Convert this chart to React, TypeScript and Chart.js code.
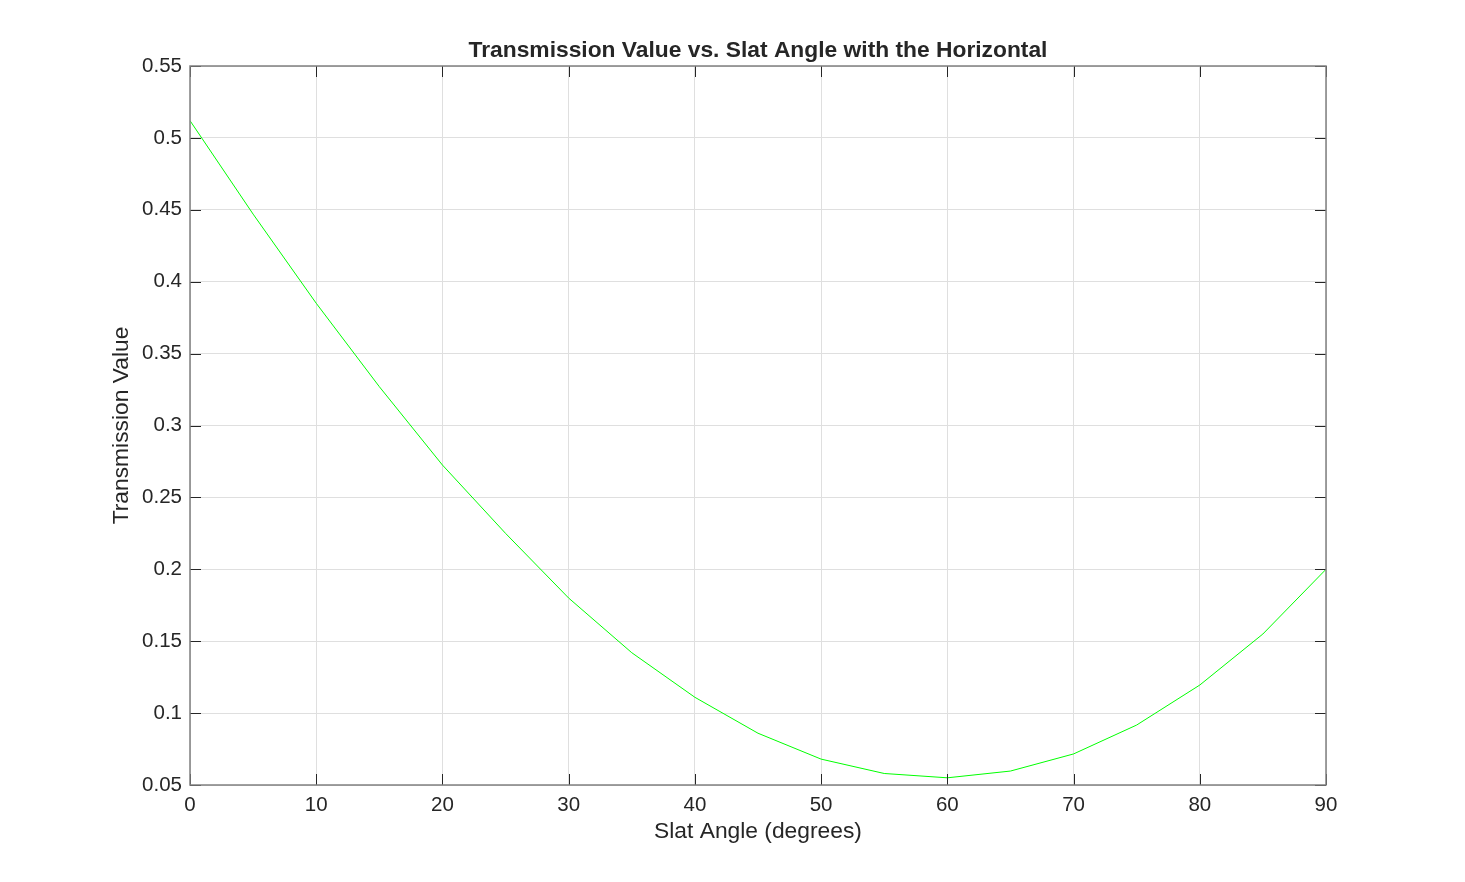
import React, { useEffect, useRef } from "react";
import { Chart, registerables } from "chart.js";

Chart.register(...registerables);

const angles = [0, 5, 10, 15, 20, 25, 30, 35, 40, 45, 50, 55, 60, 65, 70, 75, 80, 85, 90];
const transmission = [
  0.512, 0.447, 0.385, 0.327, 0.2725, 0.225, 0.18, 0.142, 0.111, 0.086,
  0.068, 0.058, 0.055, 0.0597, 0.0716, 0.0917, 0.1195, 0.155, 0.2,
];
const titleText = "Transmission Value vs. Slat Angle with the Horizontal";
const xTitle = "Slat Angle (degrees)";
const yTitle = "Transmission Value";

const FONT = "'Liberation Sans', Arial, sans-serif";
const TXT = "#262626";
const LABEL_SIZE = 22.8;
const TICK_SIZE = 20.5;

const boxPlugin = {
  id: "matlabBox",
  afterDatasetsDraw(chart: any) {
    const { ctx, chartArea } = chart;
    const xs = chart.scales.x;
    const ys = chart.scales.y;
    const L = chartArea.left, R = chartArea.right, T = chartArea.top, B = chartArea.bottom;
    const tl = 11;
    ctx.save();
    ctx.strokeStyle = TXT;
    ctx.lineWidth = 1;
    ctx.beginPath();
    xs.ticks.forEach((t: any) => {
      const px = Math.round(xs.getPixelForValue(t.value)) + 0.5;
      ctx.moveTo(px, B);
      ctx.lineTo(px, B - tl);
      ctx.moveTo(px, T);
      ctx.lineTo(px, T + tl);
    });
    ys.ticks.forEach((t: any) => {
      const py = Math.round(ys.getPixelForValue(t.value)) + 0.5;
      ctx.moveTo(L, py);
      ctx.lineTo(L + tl, py);
      ctx.moveTo(R, py);
      ctx.lineTo(R - tl, py);
    });
    ctx.stroke();
    ctx.strokeStyle = "#808080";
    ctx.lineWidth = 1.5;
    ctx.strokeRect(L, T, R - L, B - T);
    ctx.fillStyle = TXT;
    ctx.font = `bold ${LABEL_SIZE}px ${FONT}`;
    ctx.textAlign = "center";
    ctx.textBaseline = "middle";
    ctx.fillText(titleText, (L + R) / 2, 51);
    ctx.restore();
  },
};

export default function App() {
  const ref = useRef<HTMLCanvasElement | null>(null);
  useEffect(() => {
    document.body.style.margin = "0";
    const canvas = ref.current;
    if (!canvas) return;
    const chart = new Chart(canvas, {
      type: "line",
      data: {
        labels: angles,
        datasets: [
          {
            data: angles.map((a, i) => ({ x: a, y: transmission[i] })),
            borderColor: "#00ff00",
            borderWidth: 1,
            pointRadius: 0,
            tension: 0,
            fill: false,
          },
        ],
      },
      options: {
        animation: false,
        responsive: false,
        devicePixelRatio: 1,
        layout: { padding: { top: 66, right: 139, left: 0, bottom: 0 } },
        plugins: {
          legend: { display: false },
          tooltip: { enabled: false },
          title: { display: false },
        },
        scales: {
          x: {
            type: "linear",
            min: 0,
            max: 90,
            ticks: {
              stepSize: 10,
              color: TXT,
              font: { family: FONT, size: TICK_SIZE },
              padding: 8,
              maxRotation: 0,
            },
            grid: { color: "#dfdfdf", drawTicks: false },
            border: { display: false },
            title: {
              display: true,
              text: xTitle,
              color: TXT,
              font: { family: FONT, size: LABEL_SIZE },
              padding: { top: 0, bottom: 37 },
            },
            afterFit: (s: any) => {
              s.height = 97;
            },
          },
          y: {
            type: "linear",
            min: 0.05,
            max: 0.55,
            ticks: {
              stepSize: 0.05,
              color: TXT,
              font: { family: FONT, size: TICK_SIZE },
              padding: 8,
              callback: (v: any) => String(Number(Number(v).toFixed(2))),
            },
            grid: { color: "#dfdfdf", drawTicks: false },
            border: { display: false },
            title: {
              display: true,
              text: yTitle,
              color: TXT,
              font: { family: FONT, size: LABEL_SIZE },
              padding: { top: 108, bottom: 0 },
            },
            afterFit: (s: any) => {
              s.width = 190;
            },
          },
        },
      },
      plugins: [boxPlugin],
    });
    return () => chart.destroy();
  }, []);
  return (
    <div style={{ width: 1465, height: 882, background: "#fff" }}>
      <canvas ref={ref} width={1465} height={882} style={{ width: 1465, height: 882, display: "block" }} />
    </div>
  );
}
